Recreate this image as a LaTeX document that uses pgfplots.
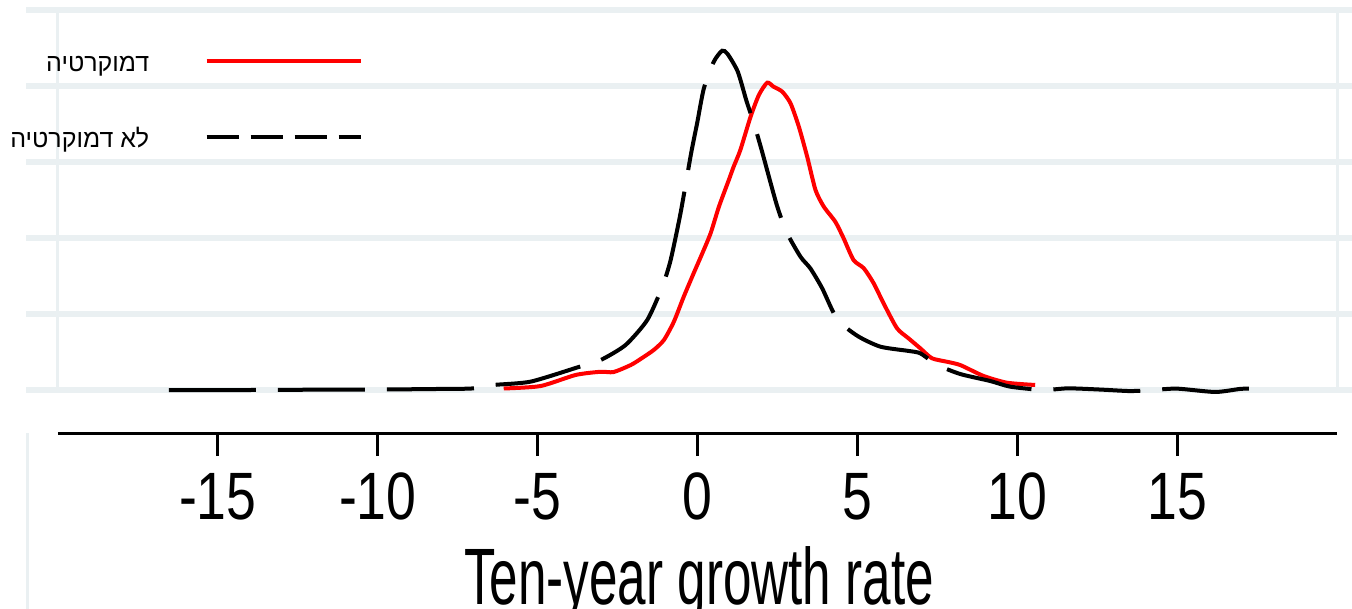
\documentclass[border=0pt]{standalone}
\usepackage{fontspec}
\usepackage{pgfplots}
\pgfplotsset{compat=1.18}
\setmainfont{Liberation Sans}
\newfontfamily\hebfont[Script=Hebrew]{Liberation Sans}
\newfontfamily\tickfont[FakeStretch=0.8]{Liberation Sans}
\newfontfamily\titlefont[FakeStretch=0.64]{Liberation Sans}
\TeXXeTstate=1
\definecolor{gridc}{RGB}{234,240,242}
\pgfplotsset{
  redimg/.style={legend image code/.code={\draw[##1] (0pt,3.5pt) -- (154pt,3.5pt);}},
  blkimg/.style={legend image code/.code={\draw[##1, dash pattern=on 32pt off 12pt] (0pt,3.5pt) -- (154pt,3.5pt);}},
}
\begin{document}
\begin{tikzpicture}
\useasboundingbox (-58pt,-175pt) rectangle (1294pt,433pt);
\begin{axis}[
 at={(0pt,0pt)}, anchor=south west,
 scale only axis, width=1279pt, height=423pt,
 xmin=-20, xmax=20, ymin=-0.028289, ymax=0.25,
 clip=false,
 axis x line=bottom, axis y line=none,
 axis line style={line width=3pt, -},
 xtick={-15,-10,-5,0,5,10,15},
 xticklabels={-15,-10,-5,0,5,10,15},
 xtick align=outside, major tick length=23pt,
 every tick/.style={black, line width=3pt},
 xticklabel style={font=\tickfont\fontsize{67}{67}\selectfont, anchor=base, inner sep=0pt, yshift=-63pt},
 xlabel={Ten-year growth rate},
 xlabel style={font=\titlefont\fontsize{80}{80}\selectfont, at={(axis description cs:0.5012,-0.4066)}, anchor=base, inner sep=0pt},
 legend plot pos=right,
 legend cell align=right,
 legend style={draw=none, fill=none, at={(axis cs:-10.47,0.22270)}, anchor=north east, inner sep=0pt,
   row sep=49.7pt, column sep=55.3pt,
   font=\hebfont\fontsize{25}{25}\selectfont,
   nodes={inner sep=0pt, text height=20pt, text depth=6pt}},
]
% grid lines
\draw[gridc, line width=6pt] (axis cs:-21,0) -- (axis cs:20.47,0);
\draw[gridc, line width=6pt] (axis cs:-21,0.05) -- (axis cs:20.47,0.05);
\draw[gridc, line width=6pt] (axis cs:-21,0.10) -- (axis cs:20.47,0.10);
\draw[gridc, line width=6pt] (axis cs:-21,0.15) -- (axis cs:20.47,0.15);
\draw[gridc, line width=6pt] (axis cs:-21,0.20) -- (axis cs:20.47,0.20);
\draw[gridc, line width=6pt] (axis cs:-21,0.25) -- (axis cs:20.47,0.25);
\draw[gridc, line width=3pt] (axis cs:-20,0) -- (axis cs:-20,0.25);
\draw[gridc, line width=3pt] (axis cs:20,0) -- (axis cs:20,0.25);
\draw[gridc, line width=3pt] (axis cs:-20.94,-0.0283) -- (axis cs:-20.94,-0.145);

\addplot[red, line width=4pt, smooth, tension=0.4, redimg] coordinates {
(-6.06,0.0010) (-4.91,0.0026) (-3.81,0.0099) (-3.03,0.0120) (-2.63,0.0118)
(-2.09,0.0164) (-1.78,0.0204) (-1.37,0.0263) (-1.05,0.0329) (-0.74,0.0449)
(-0.43,0.0614) (-0.12,0.0768) (0.15,0.0899) (0.41,0.1031) (0.67,0.1206)
(0.98,0.1382) (1.13,0.1469) (1.34,0.1579)
(1.66,0.1798) (1.92,0.1941) (2.18,0.2022) (2.38,0.1995) (2.65,0.1963)
(2.91,0.1886) (3.17,0.1732) (3.43,0.1535) (3.69,0.1316) (3.95,0.1206)
(4.31,0.1107) (4.57,0.0998) (4.88,0.0855) (5.20,0.0801) (5.51,0.0702)
(5.82,0.0570) (6.24,0.0406) (6.60,0.0340) (6.97,0.0274) (7.33,0.0209)
(7.80,0.0186) (8.22,0.0164) (8.95,0.0092) (9.68,0.0048) (10.56,0.0033)
};
\addlegendentry{\beginR דמוקרטיה\endR}

\addplot[black, line width=4pt, smooth, tension=0.4, dash pattern=on 87pt off 22pt, blkimg] coordinates {
(-16.53,0.0000) (-14.0,0.0000) (-12.0,0.0002) (-10.0,0.0003) (-8.0,0.0007)
(-7.06,0.0010) (-6.375,0.0033) (-5.22,0.0055) (-3.75,0.0149) (-3.03,0.0197)
(-2.25,0.0296) (-1.57,0.0461) (-1.10,0.0680) (-0.84,0.0855) (-0.53,0.1164)
(-0.20,0.1557) (-0.01,0.1757) (0.20,0.1985) (0.51,0.2160) (0.77,0.2232)
(0.94,0.2211) (1.26,0.2094) (1.53,0.1903) (1.78,0.1743) (2.02,0.1568)
(2.47,0.1224) (2.78,0.1041) (3.22,0.0877) (3.53,0.0800) (3.90,0.0669)
(4.37,0.0465) (5.01,0.0355) (5.72,0.0285) (6.60,0.0257) (6.97,0.0241)
(7.51,0.0164) (8.22,0.0105) (9.16,0.0059) (9.78,0.0022) (10.81,0.0000)
(11.59,0.0011) (12.59,0.0003) (13.53,-0.0007) (14.25,0.0000) (15.0,0.0009)
(16.19,-0.0013) (16.97,0.0007) (17.44,0.0011)
};
\addlegendentry{\beginR לא דמוקרטיה\endR}
\end{axis}
\end{tikzpicture}
\end{document}
